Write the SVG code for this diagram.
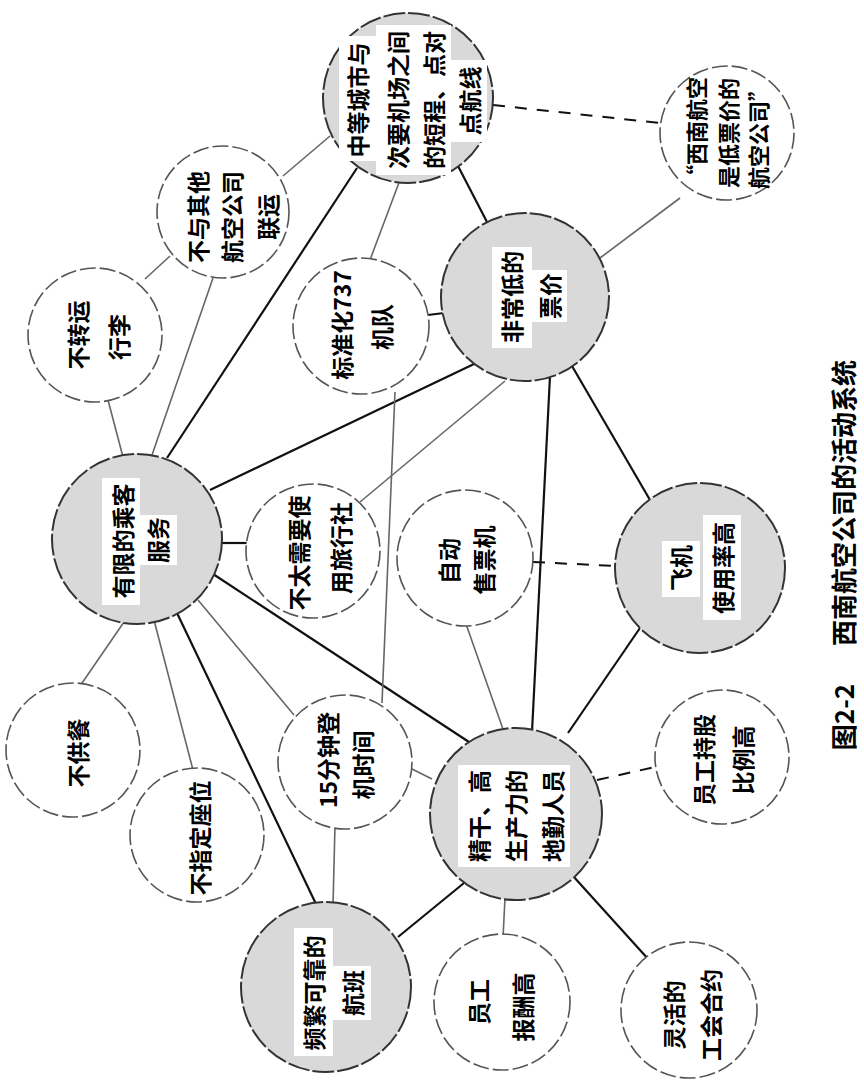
<svg xmlns="http://www.w3.org/2000/svg" width="864" height="1089" viewBox="0 0 864 1089">
<style>
.wn{fill:#fff;stroke:#555;stroke-width:1.6;stroke-dasharray:16 4}
.gn{fill:#d9d9d9;stroke:#333;stroke-width:2;stroke-dasharray:22 3}
.dk{stroke:#111;stroke-width:2.2;fill:none}
.lt{stroke:#666;stroke-width:1.6;fill:none}
.ds{stroke:#111;stroke-width:2;stroke-dasharray:12 10;fill:none}
.t{font-family:"Noto Sans CJK SC","Noto Sans CJK JP",sans-serif;font-size:23px;font-weight:700;text-anchor:middle;dominant-baseline:central;fill:#000}
.c{font-family:"Noto Sans CJK SC","Noto Sans CJK JP",sans-serif;font-size:26px;font-weight:700;text-anchor:middle;dominant-baseline:central;fill:#000}
.wb{fill:#fff}
</style>
<rect width="864" height="1089" fill="#fff"/>
<g id="connectors">
<line class="lt" x1="330" y1="136" x2="283" y2="176"/>
<line class="dk" x1="357" y1="168" x2="167" y2="458"/>
<line class="lt" x1="400" y1="180" x2="370" y2="260"/>
<line class="dk" x1="458" y1="166" x2="487" y2="222"/>
<line class="ds" x1="493" y1="105" x2="660" y2="123"/>
<line class="lt" x1="680" y1="198" x2="600" y2="258"/>
<line class="lt" x1="170" y1="256" x2="145" y2="279"/>
<line class="lt" x1="213" y1="278" x2="152" y2="455"/>
<line class="lt" x1="108" y1="400" x2="123" y2="457"/>
<line class="dk" x1="210" y1="490" x2="474" y2="364"/>
<line class="dk" x1="220" y1="543" x2="248" y2="543"/>
<line class="dk" x1="213" y1="574" x2="469" y2="742"/>
<line class="lt" x1="198" y1="600" x2="294" y2="715"/>
<line class="dk" x1="177" y1="613" x2="316" y2="904"/>
<line class="lt" x1="154" y1="620" x2="193" y2="770"/>
<line class="lt" x1="124" y1="622" x2="80" y2="686"/>
<line class="lt" x1="395" y1="392" x2="382" y2="703"/>
<line class="dk" x1="428" y1="315" x2="444" y2="313"/>
<line class="lt" x1="360" y1="502" x2="505" y2="381"/>
<line class="dk" x1="550" y1="376" x2="532" y2="732"/>
<line class="dk" x1="572" y1="366" x2="650" y2="500"/>
<line class="lt" x1="466" y1="624" x2="504" y2="732"/>
<line class="ds" x1="533" y1="562" x2="616" y2="566"/>
<line class="lt" x1="408" y1="767" x2="432" y2="779"/>
<line class="lt" x1="335" y1="825" x2="333" y2="905"/>
<line class="dk" x1="464" y1="883" x2="398" y2="937"/>
<line class="lt" x1="505" y1="898" x2="503" y2="938"/>
<line class="dk" x1="573" y1="876" x2="649" y2="960"/>
<line class="ds" x1="597" y1="780" x2="655" y2="767"/>
<line class="dk" x1="568" y1="733" x2="640" y2="628"/>
</g>
<g id="nodeA">
<circle class="gn" cx="408" cy="98" r="85"/>
<rect class="wb" x="339" y="36" width="37" height="125"/>
<rect class="wb" x="376" y="25" width="37" height="150"/>
<rect class="wb" x="413" y="25" width="38" height="150"/>
<rect class="wb" x="451" y="60" width="36" height="82"/>
<text class="t" transform="translate(357,100) rotate(-90)">中等城市与</text>
<text class="t" transform="translate(397,100) rotate(-90)">次要机场之间</text>
<text class="t" transform="translate(433,100) rotate(-90)">的短程、点对</text>
<text class="t" transform="translate(469,101) rotate(-90)">点航线</text>
</g>
<g id="nodeC">
<circle class="wn" cx="727" cy="133" r="67"/>
<text class="t" style="font-size:22px" transform="translate(695,132) rotate(-90)">“西南航空</text>
<text class="t" style="font-size:22px" transform="translate(727,133) rotate(-90)">是低票价的</text>
<text class="t" style="font-size:22px" transform="translate(757,134) rotate(-90)">航空公司”</text>
</g>
<g id="nodeD">
<circle class="wn" cx="223" cy="212" r="66"/>
<text class="t" transform="translate(197,217) rotate(-90)">不与其他</text>
<text class="t" transform="translate(231,217) rotate(-90)">航空公司</text>
<text class="t" transform="translate(267,217) rotate(-90)">联运</text>
</g>
<g id="nodeE">
<circle class="wn" cx="95" cy="335" r="67"/>
<text class="t" transform="translate(77,335) rotate(-90)">不转运</text>
<text class="t" transform="translate(118,337) rotate(-90)">行李</text>
</g>
<g id="nodeF">
<circle class="wn" cx="361" cy="326" r="68"/>
<text class="t" transform="translate(341,325) rotate(-90)">标准化737</text>
<text class="t" transform="translate(381,327) rotate(-90)">机队</text>
</g>
<g id="nodeG">
<circle class="gn" cx="525" cy="297" r="84"/>
<rect class="wb" x="492" y="247" width="40" height="101"/>
<rect class="wb" x="532" y="270" width="35" height="52"/>
<text class="t" transform="translate(511,297) rotate(-90)">非常低的</text>
<text class="t" transform="translate(549,296) rotate(-90)">票价</text>
</g>
<g id="nodeH">
<circle class="gn" cx="137" cy="539" r="85"/>
<rect class="wb" x="102" y="478" width="38" height="127"/>
<rect class="wb" x="140" y="515" width="37" height="50"/>
<text class="t" transform="translate(122,541) rotate(-90)">有限的乘客</text>
<text class="t" transform="translate(157,540) rotate(-90)">服务</text>
</g>
<g id="nodeI">
<circle class="wn" cx="73" cy="750" r="67"/>
<text class="t" transform="translate(77,753) rotate(-90)">不供餐</text>
</g>
<g id="nodeJ">
<circle class="wn" cx="197" cy="835" r="67"/>
<text class="t" transform="translate(199,838) rotate(-90)">不指定座位</text>
</g>
<g id="nodeK">
<circle class="wn" cx="345" cy="762" r="67"/>
<text class="t" transform="translate(327,760) rotate(-90)">15分钟登</text>
<text class="t" transform="translate(362,765) rotate(-90)">机时间</text>
</g>
<g id="nodeL">
<circle class="wn" cx="313" cy="551" r="67"/>
<text class="t" transform="translate(298,553) rotate(-90)">不太需要使</text>
<text class="t" transform="translate(340,548) rotate(-90)">用旅行社</text>
</g>
<g id="nodeM">
<circle class="wn" cx="465" cy="558" r="68"/>
<text class="t" transform="translate(448,561) rotate(-90)">自动</text>
<text class="t" transform="translate(483,560) rotate(-90)">售票机</text>
</g>
<g id="nodeN">
<circle class="gn" cx="700" cy="568" r="85"/>
<rect class="wb" x="662" y="541" width="38" height="56"/>
<rect class="wb" x="703" y="515" width="38" height="105"/>
<text class="t" transform="translate(680,568) rotate(-90)">飞机</text>
<text class="t" transform="translate(722,568) rotate(-90)">使用率高</text>
</g>
<g id="nodeO">
<circle class="gn" cx="516" cy="814" r="86"/>
<rect class="wb" x="458" y="765" width="112" height="102"/>
<text class="t" transform="translate(478,816) rotate(-90)">精干、高</text>
<text class="t" transform="translate(515,816) rotate(-90)">生产力的</text>
<text class="t" transform="translate(552,816) rotate(-90)">地勤人员</text>
</g>
<g id="nodeP">
<circle class="gn" cx="326" cy="987" r="85"/>
<rect class="wb" x="294" y="928" width="39" height="128"/>
<rect class="wb" x="333" y="966" width="38" height="54"/>
<text class="t" transform="translate(313,993) rotate(-90)">频繁可靠的</text>
<text class="t" transform="translate(352,993) rotate(-90)">航班</text>
</g>
<g id="nodeQ">
<circle class="wn" cx="502" cy="1002" r="68"/>
<text class="t" transform="translate(478,1002) rotate(-90)">员工</text>
<text class="t" transform="translate(522,1007) rotate(-90)">报酬高</text>
</g>
<g id="nodeR">
<circle class="wn" cx="689" cy="1010" r="68"/>
<text class="t" transform="translate(673,1015) rotate(-90)">灵活的</text>
<text class="t" transform="translate(710,1015) rotate(-90)">工会合约</text>
</g>
<g id="nodeS">
<circle class="wn" cx="722" cy="757" r="67"/>
<text class="t" transform="translate(703,760) rotate(-90)">员工持股</text>
<text class="t" transform="translate(742,760) rotate(-90)">比例高</text>
</g>
<g id="caption">
<text class="c" transform="translate(842,717) rotate(-90)">图2-2</text>
<text class="c" transform="translate(842,503) rotate(-90)">西南航空公司的活动系统</text>
</g>
</svg>
